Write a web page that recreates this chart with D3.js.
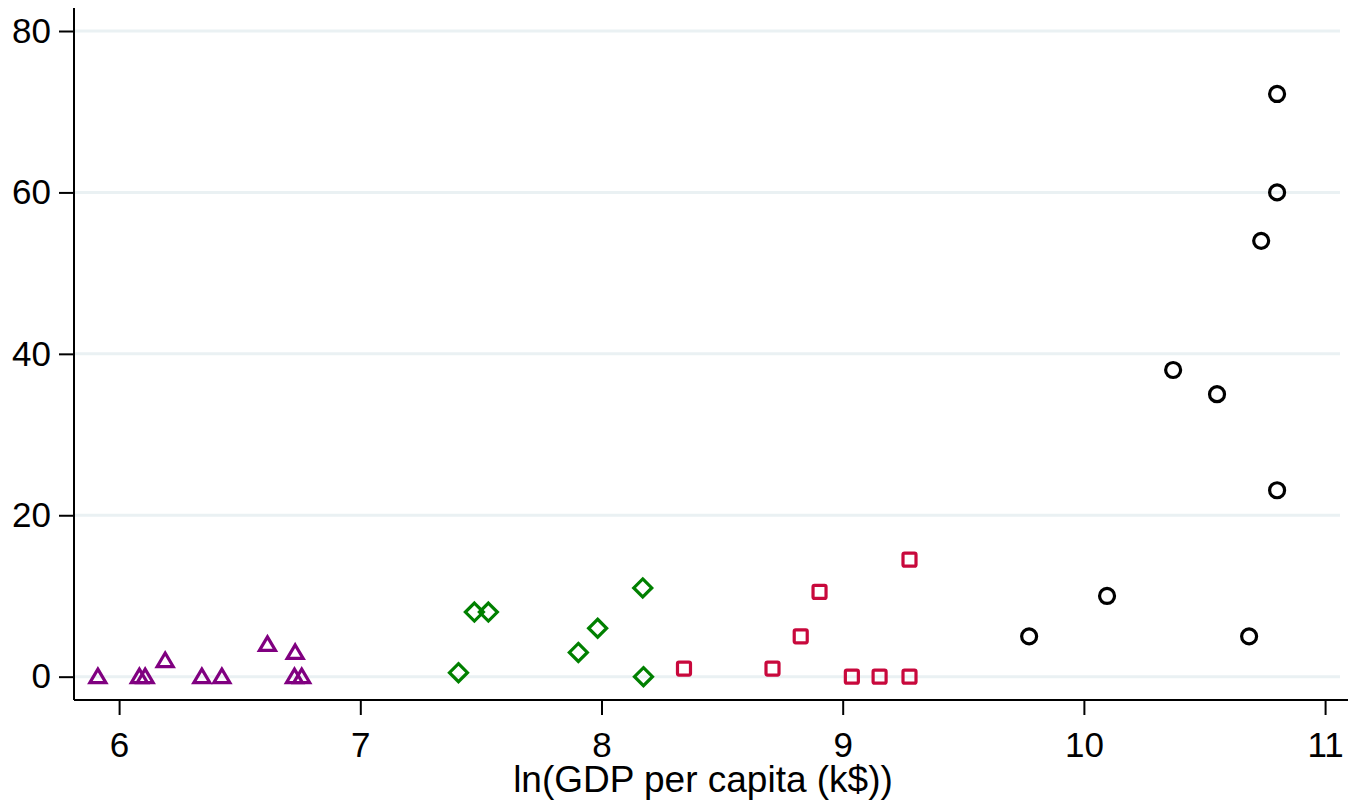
<!DOCTYPE html>
<html>
<head>
<meta charset="utf-8">
<script src="https://cdn.jsdelivr.net/npm/d3@7"></script>
<style>
  html, body { margin: 0; padding: 0; background: #fff; }
  svg { display: block; }
  text { font-family: "Liberation Sans", Arial, sans-serif; fill: #000; }
</style>
</head>
<body>
<svg id="chart" width="1348" height="803"></svg>
<script>
// ln(GDP per capita) vs. value, grouped by income band
const lowX  = [5.912, 6.084, 6.108, 6.191, 6.343, 6.426, 6.615, 6.730, 6.727, 6.757];
const lowY  = [0, 0, 0, 2, 0, 0, 4, 3, 0, 0];
const lowerMidX = [7.407, 7.473, 7.531, 7.904, 7.984, 8.171, 8.174];
const lowerMidY = [0.5, 8, 8, 3, 6, 11, 0];
const upperMidX = [8.342, 8.709, 8.826, 8.904, 9.038, 9.153, 9.277, 9.277];
const upperMidY = [1, 1, 5, 10.5, 0, 0, 0, 14.5];
const highX = [9.773, 10.096, 10.685, 10.370, 10.552, 10.735, 10.801, 10.801, 10.801];
const highY = [5, 10, 5, 38, 35, 54, 72.2, 60, 23.1];

const xTicks = [6, 7, 8, 9, 10, 11];
const yTicks = [0, 20, 40, 60, 80];
const xTitle = "ln(GDP per capita (k$))";

const svg = d3.select("#chart");
const plot = { left: 74, right: 1348, top: 8, bottom: 700 };

const x = d3.scaleLinear().domain([5.813, 11.095]).range([plot.left, plot.right]);
const y = d3.scaleLinear().domain([-2.89, 82.85]).range([plot.bottom, plot.top]);

// grid
svg.append("g")
  .selectAll("line")
  .data(yTicks)
  .join("line")
  .attr("x1", plot.left + 1).attr("x2", 1340)
  .attr("y1", d => y(d)).attr("y2", d => y(d))
  .attr("stroke", "#eaf1f3").attr("stroke-width", 3);

// axes
const fmt = d3.format("d");
const yAxis = svg.append("g")
  .attr("transform", `translate(${plot.left},0)`)
  .call(d3.axisLeft(y).tickValues(yTicks).tickFormat(fmt)
    .tickSize(15).tickPadding(8).tickSizeOuter(0));
const xAxis = svg.append("g")
  .attr("transform", `translate(0,${plot.bottom})`)
  .call(d3.axisBottom(x).tickValues(xTicks).tickFormat(fmt)
    .tickSize(15).tickPadding(17).tickSizeOuter(0));

[yAxis, xAxis].forEach(g => {
  g.select(".domain").attr("stroke", "#000").attr("stroke-width", 2);
  g.selectAll(".tick line").attr("stroke", "#000").attr("stroke-width", 2);
  g.selectAll(".tick text")
    .attr("font-family", "'Liberation Sans', Arial, sans-serif")
    .attr("font-size", 35).attr("fill", "#000");
});
yAxis.select(".domain").attr("d", `M0,${plot.bottom}V${plot.top}`);
xAxis.select(".domain").attr("d", `M${plot.left},0H${plot.right}`);

svg.append("text")
  .attr("x", 703).attr("y", 792)
  .attr("text-anchor", "middle")
  .attr("font-size", 37)
  .text(xTitle);

const sw = 3.2;
const pts = (xs, ys) => xs.map((v, i) => [v, ys[i]]);

// low income: triangles
svg.append("g").selectAll("path")
  .data(pts(lowX, lowY)).join("path")
  .attr("transform", d => `translate(${x(d[0])},${y(d[1])})`)
  .attr("d", "M0,-7.5L8,6L-8,6Z")
  .attr("fill", "none").attr("stroke", "#800080").attr("stroke-width", sw);

// lower-middle income: diamonds
svg.append("g").selectAll("path")
  .data(pts(lowerMidX, lowerMidY)).join("path")
  .attr("transform", d => `translate(${x(d[0])},${y(d[1])})`)
  .attr("d", "M0,-9L9,0L0,9L-9,0Z")
  .attr("fill", "none").attr("stroke", "#008000").attr("stroke-width", sw);

// upper-middle income: squares
svg.append("g").selectAll("rect")
  .data(pts(upperMidX, upperMidY)).join("rect")
  .attr("x", d => x(d[0]) - 6.5).attr("y", d => y(d[1]) - 6.5)
  .attr("width", 13).attr("height", 13).attr("rx", 1.5)
  .attr("fill", "none").attr("stroke", "#c8083c").attr("stroke-width", sw);

// high income: circles
svg.append("g").selectAll("circle")
  .data(pts(highX, highY)).join("circle")
  .attr("cx", d => x(d[0])).attr("cy", d => y(d[1]))
  .attr("r", 7.5)
  .attr("fill", "none").attr("stroke", "#000").attr("stroke-width", sw);
</script>
</body>
</html>
